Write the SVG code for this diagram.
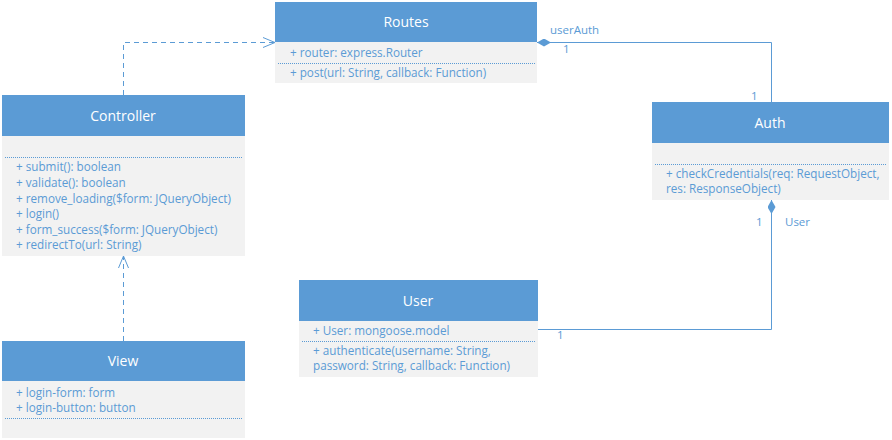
<svg xmlns="http://www.w3.org/2000/svg" width="892" height="440" viewBox="0 0 892 440">
<style>
.hd{fill:#5B9BD5}
.bd{fill:#F2F2F2}
.ttl{font-family:"Open Sans","Liberation Sans",sans-serif;font-size:14px;fill:#FFFFFF;text-anchor:middle}
.tx{font-family:"Open Sans","Liberation Sans",sans-serif;font-size:11.7px;fill:#5B9BD5}
.sep{stroke:#5B9BD5;stroke-width:1;stroke-dasharray:1 1;fill:none}
.cn{stroke:#5B9BD5;stroke-width:1;fill:none}
.dash{stroke:#5B9BD5;stroke-width:1;fill:none;stroke-dasharray:5 4}
.lb{font-family:"Open Sans","Liberation Sans",sans-serif;font-size:11.5px;fill:#5B9BD5}
</style>
<defs>
<marker id="open" viewBox="0 0 12 12" refX="12" refY="6" markerWidth="12" markerHeight="12" markerUnits="userSpaceOnUse" orient="auto">
<path d="M0,1 L12,6 L0,11" fill="none" stroke="#5B9BD5" stroke-width="1"/>
</marker>
<marker id="dia" viewBox="0 0 14 8" refX="14" refY="4" markerWidth="14" markerHeight="8" markerUnits="userSpaceOnUse" orient="auto">
<path d="M0,4 L7,0 L14,4 L7,8 Z" fill="#5B9BD5"/>
</marker>
</defs>
<g id="routes">
<rect class="hd" x="275" y="2" width="262" height="40"/>
<rect class="bd" x="275" y="42" width="262" height="41"/>
<text class="ttl" x="406" y="27">Routes</text>
<text class="tx" x="290" y="57">+ router: express.Router</text>
<line class="sep" x1="278" y1="63.5" x2="535" y2="63.5"/>
<text class="tx" x="290" y="77">+ post(url: String, callback: Function)</text>
</g>
<g id="auth">
<rect class="hd" x="652" y="102" width="237" height="41"/>
<rect class="bd" x="652" y="143" width="237" height="57"/>
<text class="ttl" x="770" y="128">Auth</text>
<line class="sep" x1="655" y1="164.5" x2="887" y2="164.5"/>
<text class="tx" x="666" y="178">+ checkCredentials(req: RequestObject,</text>
<text class="tx" x="666" y="193">res: ResponseObject)</text>
</g>
<g id="controller">
<rect class="hd" x="2" y="95" width="243" height="41"/>
<rect class="bd" x="2" y="136" width="243" height="120"/>
<text class="ttl" x="123" y="121">Controller</text>
<line class="sep" x1="5" y1="157.5" x2="243" y2="157.5"/>
<text class="tx" x="16" y="171">+ submit(): boolean</text>
<text class="tx" x="16" y="187">+ validate(): boolean</text>
<text class="tx" x="16" y="203">+ remove_loading($form: JQueryObject)</text>
<text class="tx" x="16" y="218">+ login()</text>
<text class="tx" x="16" y="234">+ form_success($form: JQueryObject)</text>
<text class="tx" x="16" y="249">+ redirectTo(url: String)</text>
</g>
<g id="user">
<rect class="hd" x="299" y="280" width="239" height="41"/>
<rect class="bd" x="299" y="321" width="239" height="56"/>
<text class="ttl" x="418" y="306">User</text>
<text class="tx" x="313" y="335">+ User: mongoose.model</text>
<line class="sep" x1="302" y1="341.5" x2="535" y2="341.5"/>
<text class="tx" x="313" y="355">+ authenticate(username: String,</text>
<text class="tx" x="313" y="370">password: String, callback: Function)</text>
</g>
<g id="view">
<rect class="hd" x="2" y="341" width="243" height="40"/>
<rect class="bd" x="2" y="381" width="243" height="57"/>
<text class="ttl" x="123" y="366">View</text>
<text class="tx" x="16" y="397">+ login-form: form</text>
<text class="tx" x="16" y="412">+ login-button: button</text>
<line class="sep" x1="5" y1="418.5" x2="243" y2="418.5"/>
</g>
<g id="connectors">
<path class="cn" d="M771.5,102 V42.5 H537" marker-end="url(#dia)"/>
<text class="lb" x="550" y="34">userAuth</text>
<text class="lb" x="563" y="53">1</text>
<text class="lb" x="751" y="100">1</text>
<path class="cn" d="M538,329.5 H771.5 V200" marker-end="url(#dia)"/>
<text class="lb" x="756" y="226">1</text>
<text class="lb" x="785" y="226">User</text>
<text class="lb" x="557" y="339">1</text>
<path class="dash" d="M123.5,95 V42.5 H275" marker-end="url(#open)"/>
<path class="dash" d="M123.5,341 V256" marker-end="url(#open)"/>
</g>
</svg>
